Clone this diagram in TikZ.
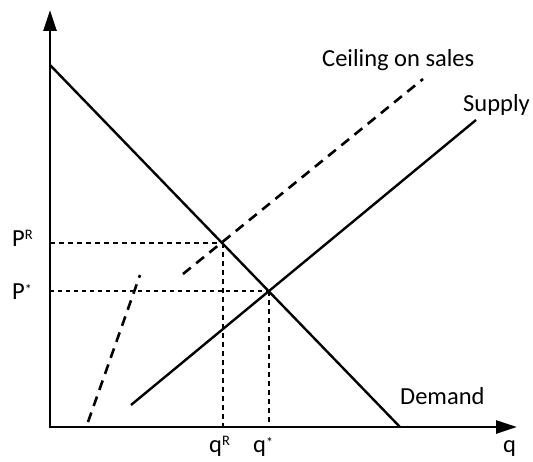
\documentclass[tikz,border=0pt]{standalone}
\usepackage{fontspec}
\setmainfont{Carlito}
\usetikzlibrary{arrows.meta}
\newcommand\mysup[1]{\raisebox{7pt}{\fontsize{14.5}{15}\selectfont #1}}
\newcommand\mystar{\raisebox{5pt}{\fontsize{14}{15}\selectfont *}}
\begin{document}
\begin{tikzpicture}[x=1pt,y=1pt,
  axis/.style={line width=2.8pt,-{Triangle[length=21pt,width=13pt]}},
  curve/.style={line width=2.4pt},
  ceil/.style={line width=2.6pt,dash pattern=on 10pt off 7pt},
  guide/.style={line width=2.3pt,dash pattern=on 5pt off 4pt},
  lbl/.style={font=\fontsize{24.5}{28}\selectfont,inner sep=0pt,anchor=base west}]
\useasboundingbox (0,0) rectangle (533,461);
\fill[white] (0,0) rectangle (533,461);
% axes
\coordinate (Ov) at (50,32.6);
\coordinate (Oh) at (48.6,34);
\coordinate (Ytop) at (50,451);
\coordinate (Xend) at (517,34);
\draw[axis] (Ov) -- (Ytop);
\draw[axis] (Oh) -- (Xend);
% demand and supply
\coordinate (D1) at (50,396);
\coordinate (D2) at (400,34);
\coordinate (S1) at (131,56);
\coordinate (S2) at (476,341);
\draw[curve] (D1) -- (D2);
\draw[curve] (S1) -- (S2);
% intersections
\coordinate (ER) at (223,218);
\coordinate (ES) at (269,170);
\coordinate (PRa) at (50,218);
\coordinate (PSa) at (50,170);
\coordinate (qRa) at (223,34);
\coordinate (qSa) at (269,34);
\draw[guide] (PRa) -- (ER);
\draw[guide] (ER) -- (qRa);
\draw[guide,dash pattern=on 4pt off 4pt] (PSa) -- (ES);
\draw[guide] (ES) -- (qSa);
% ceiling on sales
\coordinate (C1) at (88,39);
\coordinate (C2) at (140,186);
\coordinate (C3) at (183,187);
\coordinate (C4) at (423,382);
\draw[ceil] (C1) -- (C2);
\draw[ceil] (C3) -- (C4);
% labels
\node[lbl] (lPR) at (12,214) {P\mysup{R}};
\node[lbl] (lPS) at (12,161) {P\mystar};
\node[lbl] (lqR) at (209,9) {q\mysup{R}};
\node[lbl] (lqS) at (253,9) {q\mystar};
\node[lbl] (lq) at (503,9) {q};
\node[lbl] (lD) at (400,57) {Demand};
\node[lbl] (lS) at (463,349) {Supply};
\node[lbl] (lC) at (322,394) {Ceiling on sales};
\end{tikzpicture}
\end{document}
